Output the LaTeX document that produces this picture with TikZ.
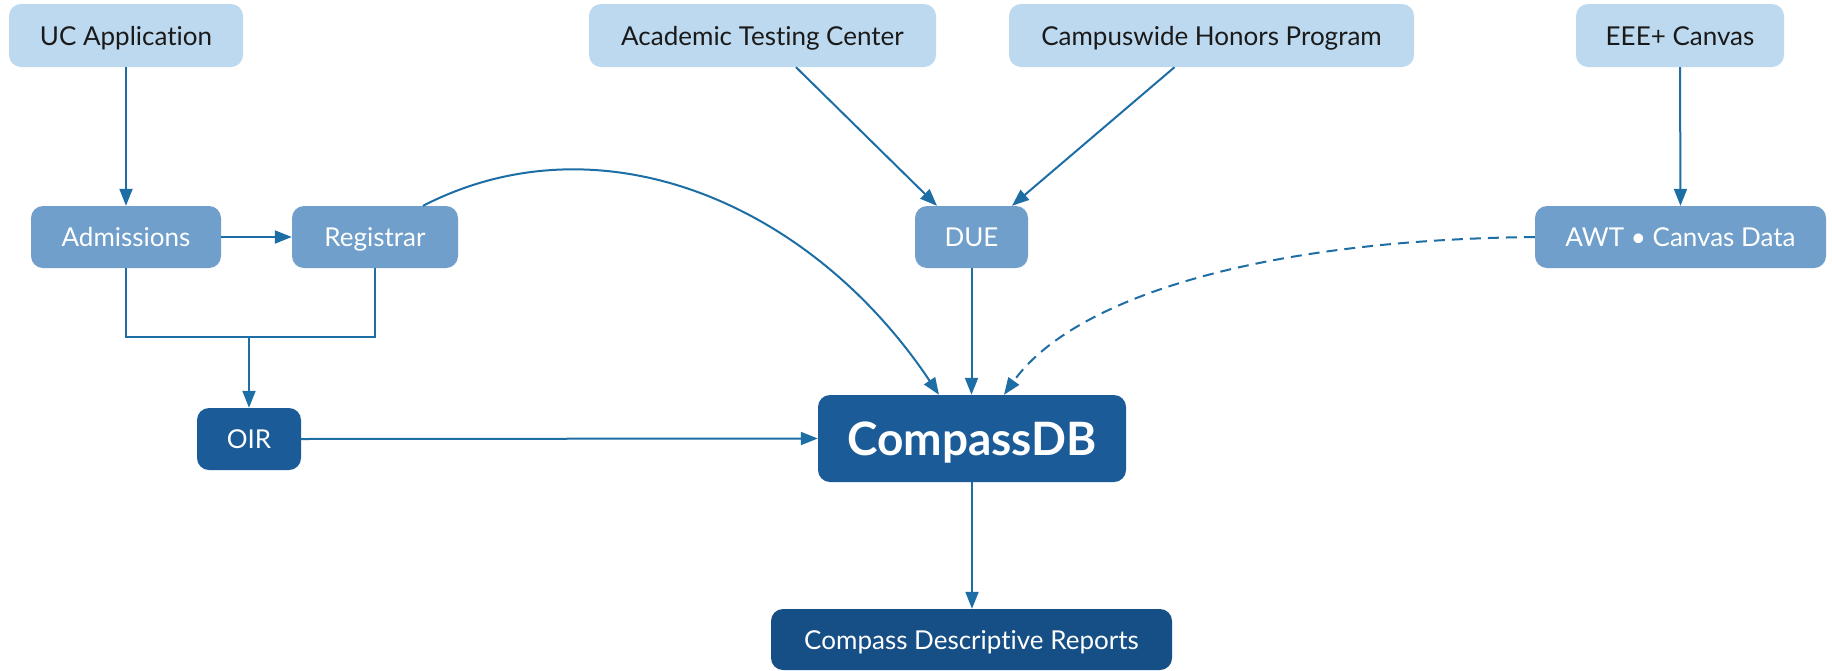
\documentclass[tikz,border=0pt]{standalone}
\usepackage{fontspec}
\setmainfont{Lato}[Ligatures=NoCommon]
\usetikzlibrary{arrows.meta}
\definecolor{lightbox}{HTML}{BDD9EF}
\definecolor{midbox}{HTML}{6F9FCA}
\definecolor{darkbox}{HTML}{1B5B97}
\definecolor{deepbox}{HTML}{164F85}
\definecolor{linec}{HTML}{1E6EA6}
\definecolor{txt}{HTML}{1A1A1A}
\begin{document}
\begin{tikzpicture}[x=1pt,y=-1pt,
  box/.style={rounded corners=12pt, inner sep=0pt, anchor=center, text height=19pt, text depth=0pt, font=\fontsize{26}{30}\selectfont},
  srcbox/.style={box, fill=lightbox, text=txt},
  midb/.style={box, fill=midbox, text=white},
  darkb/.style={box, fill=darkbox, text=white},
  deepb/.style={box, fill=deepbox, text=white},
  arr/.style={draw=linec, line width=2pt, -{Triangle[length=17pt,width=13pt]}},
  conn/.style={draw=linec, line width=2pt},
]
\useasboundingbox (0,0) rectangle (1832,670);
\fill[white] (0,0) rectangle (1832,670);
% sources
\node[srcbox, minimum width=234pt, minimum height=63pt] (uc) at (126,35.5) {UC Application};
\node[srcbox, minimum width=347pt, minimum height=63pt] (atc) at (762.5,35.5) {Academic Testing Center};
\node[srcbox, minimum width=405pt, minimum height=63pt] (chp) at (1211.5,35.5) {Campuswide Honors Program};
\node[srcbox, minimum width=208pt, minimum height=63pt] (eee) at (1680,35.5) {EEE+ Canvas};
% middle
\node[midb, minimum width=190pt, minimum height=62pt] (adm) at (126,237) {Admissions};
\node[midb, minimum width=166pt, minimum height=62pt] (reg) at (375,237) {Registrar};
\node[midb, minimum width=113pt, minimum height=62pt] (due) at (971.5,237) {DUE};
\node[midb, minimum width=291pt, minimum height=62pt] (awt) at (1680.5,237) {AWT • Canvas Data};
% lower
\node[darkb, minimum width=104pt, minimum height=62pt] (oir) at (249,439) {OIR};
\node[darkb, minimum width=308pt, minimum height=87pt, text height=33pt, font=\fontsize{46}{52}\selectfont\bfseries] (cdb) at (972,438.5) {CompassDB};
\node[deepb, minimum width=401pt, minimum height=61pt] (rep) at (971.5,639.5) {Compass Descriptive Reports};
\coordinate (j) at (249,337);
% connectors
\draw[arr] (uc.south) -- (adm.north);
\draw[arr] (adm.east) -- (reg.west);
\draw[conn] (adm.south) |- (j) -| (reg.south);
\draw[arr] (j) -- (oir.north);
\draw[arr] (oir.east) -- (cdb.west);
\draw[arr] ([xshift=33.5pt]atc.south) -- ([xshift=-34.5pt]due.north);
\draw[arr] ([xshift=-37pt]chp.south) -- ([xshift=40.5pt]due.north);
\draw[arr] (due.south) -- (due.south |- cdb.north);
\draw[arr] (eee.south) -- (awt.north);
\draw[arr] (cdb.south) -- (cdb.south |- rep.north);
\draw[arr] ([xshift=48pt]reg.north) .. controls +(177,-91) and +(-129,-193) .. ([xshift=-33pt]cdb.north);
\draw[arr, dash pattern=on 11pt off 7pt] (awt.west) .. controls +(-286,3) and +(66,-93) .. ([xshift=32pt]cdb.north);
\end{tikzpicture}
\end{document}
